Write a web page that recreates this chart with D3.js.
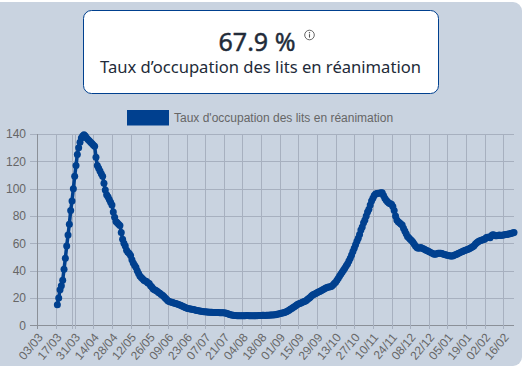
<!DOCTYPE html>
<html><head><meta charset="utf-8">
<script src="https://cdn.jsdelivr.net/npm/d3@7"></script>
<style>html,body{margin:0;padding:0;background:#fff;overflow:hidden}svg{display:block}</style>
</head><body><svg id="c" width="525" height="369"></svg>
<script>
const seriesName = "Taux d’occupation des lits en réanimation";
const legendName = "Taux d'occupation des lits en réanimation";
const kpiValue = "67.9 %";
const axisStart = "2020-03-03";
const seriesStart = "2020-03-18";
const seriesEnd = "2021-02-24";
const yTicks = [0,20,40,60,80,100,120,140];
const xTickLabels = ["03/03","17/03","31/03","14/04","28/04","12/05","26/05","09/06","23/06","07/07","21/07","04/08","18/08","01/09","15/09","29/09","13/10","27/10","10/11","24/11","08/12","22/12","05/01","19/01","02/02","16/02"];
const extraGridDates = ["2020-03-29"];
const occupation = [
15,20,26,29,33,41,49,58,66,74,
84,91,100,109,117,125,130,134,137,138.5,
139.5,138.5,137,136,135,134,133,132,131,123,
117,115,113,111,109,104,99,95.6,94,92,
90,88,83,79,76,75,74,73,68,63,
60,58,55,53.5,52.5,51,48,45.6,44,42.5,
40,38,36,35,34,33,32.5,32,31,30.5,
29,28,26.5,26,25.5,25,24,23.5,22.5,22,
21,20,19,18,17.5,17,16.8,16.5,16.2,15.9,
15.6,15.2,14.8,14.5,14,13.6,13.1,12.7,12.3,12.1,
12,11.8,11.5,11.3,11.1,10.9,10.7,10.5,10.3,10.1,
10,9.9,9.8,9.7,9.6,9.5,9.5,9.4,9.4,9.3,
9.3,9.3,9.2,9.2,9.2,9.2,9,8.8,8.4,8.1,
7.8,7.5,7.3,7.2,7.1,7,7,6.9,6.9,6.9,
7,7,7.1,7.1,7,7,7,6.9,6.9,7,
7,7.1,7.2,7.2,7.3,7.3,7.2,7.3,7.4,7.4,
7.5,7.5,7.6,7.7,7.8,8,8.2,8.4,8.8,9,
9.2,9.6,10,10.5,11,11.7,12.3,13,13.6,14.3,
15,15.6,16,16.4,16.8,17.2,17.6,18.2,19,19.8,
20.6,21.7,22.3,22.8,23.3,23.8,24.3,24.7,25.2,25.8,
26.4,27,27.5,27.8,28,28.3,28.6,29.5,30.5,31.5,
33,34.4,36,37.5,39,40.5,42,43.5,45,47,
49,51.5,54,56.4,59,61.5,63.7,66.5,69.8,72,
75,77,80,83,85,88,91,93,95,96,
96.5,96.6,96.7,97,97,95,93,91.5,90.5,89.5,
89,88.5,87,84,80,77,75.8,75,74.2,73.4,
71,69,67,65,64,63,62,61,59.5,58,
57,56.4,56.6,57,56.4,56,55.5,55,54.5,54,
53.5,53,52.5,52,52,52.3,52.7,52.8,52.7,52.5,
52,51.8,51.5,51.3,51,50.8,50.7,50.8,51.2,51.6,
52,52.5,53,53.5,53.9,54.3,54.7,55.1,55.5,55.9,
56.4,57,57.5,58.2,59.5,60.5,61.2,61.7,62,62.5,
62.8,63,64,64.5,64.4,64,65.5,66.2,66,65.5,
65.6,65.7,66,65.8,65.9,66,66.2,66.4,66.6,66.8,
67,67.3,67.6,67.9];

const blue = "#00408f", gridC = "#a7b0bf", axisC = "#8b9098", tickC = "#666";
const parse = d3.utcParse("%Y-%m-%d");
const start = parse(seriesStart);
const series = occupation.map((v,i)=>({date:d3.utcDay.offset(start,i),v}));
const x = d3.scaleUtc().domain([parse(axisStart),parse(seriesEnd)]).range([37.4,514]);
const y = d3.scaleLinear().domain([0,140]).range([325.3,134]);
const tickDates = xTickLabels.map((_,i)=>d3.utcDay.offset(parse(axisStart),i*14));

const svg = d3.select("#c");
svg.append("rect").attr("x",-10).attr("y",2).attr("width",532).attr("height",364).attr("rx",9).attr("fill","#c9d3e0");
svg.append("rect").attr("x",83.5).attr("y",10.5).attr("width",355).attr("height",83).attr("rx",8).attr("fill","#fff").attr("stroke",blue).attr("stroke-width",1);
const kpiFont = "'Noto Sans',sans-serif";
svg.append("text").attr("x",257).attr("y",51).attr("text-anchor","middle").attr("font-family",kpiFont).attr("font-size",25).attr("font-weight",400).attr("stroke","#222b39").attr("stroke-width",0.45).attr("fill","#222b39").text(kpiValue);
svg.append("text").attr("x",260.5).attr("y",72.5).attr("text-anchor","middle").attr("font-family",kpiFont).attr("font-size",16.6).attr("fill","#222b39").text(seriesName);
const ic = svg.append("g").attr("transform","translate(309.5,35)");
ic.append("circle").attr("r",4.8).attr("fill","none").attr("stroke","#555").attr("stroke-width",0.9);
ic.append("line").attr("y1",-0.8).attr("y2",2.6).attr("stroke","#555").attr("stroke-width",1.1);
ic.append("circle").attr("cy",-2.3).attr("r",0.7).attr("fill","#555");

svg.append("rect").attr("x",127).attr("y",110).attr("width",42).attr("height",15.5).attr("fill",blue);
const sansF = "'Liberation Sans',Arial,sans-serif";
svg.append("text").attr("x",174).attr("y",121.5).attr("font-family",sansF).attr("font-size",12).attr("fill",tickC).text(legendName);

const gy = svg.append("g");
gy.selectAll("line").data(yTicks).join("line").attr("x1",30).attr("x2",514)
  .attr("y1",d=>Math.round(y(d))+.5).attr("y2",d=>Math.round(y(d))+.5)
  .attr("stroke",d=>d===0?axisC:gridC).attr("stroke-width",1);
gy.selectAll("text").data(yTicks).join("text").attr("x",26).attr("y",d=>y(d)+4.3).attr("text-anchor","end")
  .attr("font-family",sansF).attr("font-size",12).attr("fill",tickC).text(d=>d);

const gx = svg.append("g");
gx.selectAll("line").data([...tickDates,...extraGridDates.map(parse)]).join("line")
  .attr("x1",d=>Math.round(x(d))+.5).attr("x2",d=>Math.round(x(d))+.5).attr("y1",134).attr("y2",329)
  .attr("stroke",(d,i)=>i===0?axisC:gridC).attr("stroke-width",1);
gx.selectAll("text").data(tickDates).join("text")
  .attr("transform",d=>`translate(${x(d)+3},${335}) rotate(-50)`)
  .attr("text-anchor","end").attr("dy","0.35em")
  .attr("font-family",sansF).attr("font-size",12).attr("fill",tickC).text((d,i)=>xTickLabels[i]);

const line = d3.line().x(d=>x(d.date)).y(d=>y(d.v));
svg.append("path").datum(series).attr("d",line).attr("fill","none").attr("stroke",blue).attr("stroke-width",3.5);
svg.append("g").selectAll("circle").data(series).join("circle")
  .attr("cx",d=>x(d.date)).attr("cy",d=>y(d.v)).attr("r",3.5).attr("fill",blue);
</script></body></html>
